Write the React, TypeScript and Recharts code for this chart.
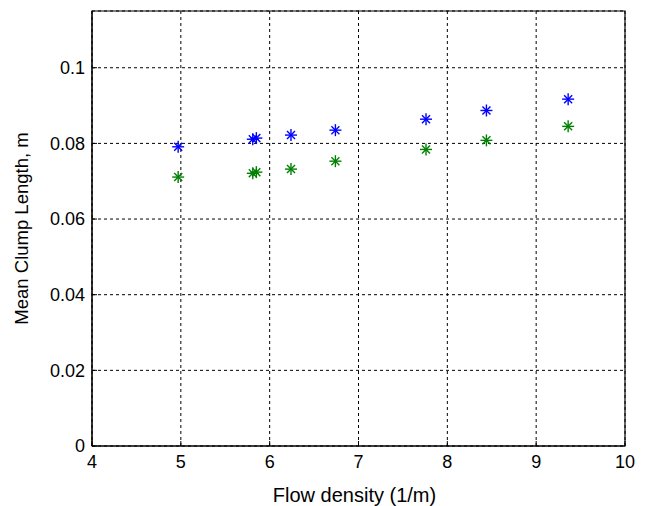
import {
  ScatterChart,
  Scatter,
  XAxis,
  YAxis,
  CartesianGrid,
  ReferenceArea,
} from "recharts";

const flowDensity = [4.97, 5.81, 5.85, 6.24, 6.74, 7.76, 8.44, 9.36];
const clumpUpper = [0.0791, 0.0811, 0.0814, 0.0822, 0.0835, 0.0864, 0.0887, 0.0917];
const clumpLower = [0.0711, 0.0721, 0.0724, 0.0732, 0.0753, 0.0784, 0.0808, 0.0845];
const xTicks = [4, 5, 6, 7, 8, 9, 10];
const yTicks = [0, 0.02, 0.04, 0.06, 0.08, 0.1];

const upperData = flowDensity.map((x, i) => ({ x, y: clumpUpper[i] }));
const lowerData = flowDensity.map((x, i) => ({ x, y: clumpLower[i] }));

const FONT = "'Liberation Sans', Arial, sans-serif";

// matlab style '*' marker
const star = (color: string) => (props: any) => {
  const { cx, cy } = props;
  const r = 6;
  const d = 4;
  return (
    <g stroke={color} strokeWidth={1.4}>
      <line x1={cx - r} y1={cy} x2={cx + r} y2={cy} />
      <line x1={cx} y1={cy - r} x2={cx} y2={cy + r} />
      <line x1={cx - d} y1={cy - d} x2={cx + d} y2={cy + d} />
      <line x1={cx - d} y1={cy + d} x2={cx + d} y2={cy - d} />
    </g>
  );
};

const YLabel = (props: any) => {
  const { viewBox } = props;
  const cx = 13;
  const cy = viewBox.y + viewBox.height / 2;
  return (
    <text
      x={cx}
      y={cy}
      transform={`rotate(-90 ${cx} ${cy})`}
      textAnchor="middle"
      dominantBaseline="central"
      fontFamily={FONT}
      fontSize={18.5}
      fill="#000"
    >
      Mean Clump Length, m
    </text>
  );
};

const XLabel = (props: any) => {
  const { viewBox } = props;
  const cx = viewBox.x + viewBox.width / 2 - 4;
  return (
    <text x={cx} y={494} textAnchor="middle" fontFamily={FONT} fontSize={20} fill="#000">
      Flow density (1/m)
    </text>
  );
};

const tickStyle = { fill: "#000", fontSize: 18, fontFamily: FONT };

export default function App() {
  return (
    <ScatterChart
      width={634}
      height={498}
      margin={{ top: 3, right: 17, left: 0, bottom: 0 }}
      style={{ background: "#fff" }}
    >
      <CartesianGrid stroke="#000" strokeDasharray="3 3" strokeWidth={1} />
      <XAxis
        type="number"
        dataKey="x"
        domain={[4, 10]}
        ticks={xTicks}
        height={60}
        stroke="#000"
        tick={tickStyle}
        tickSize={-5}
        tickMargin={14}
        label={<XLabel />}
      />
      <YAxis
        type="number"
        dataKey="y"
        domain={[0, 0.115]}
        ticks={yTicks}
        width={84}
        stroke="#000"
        tick={tickStyle}
        tickSize={-5}
        tickMargin={12}
        tickFormatter={(v: number) => String(v)}
        label={<YLabel />}
      />
      <ReferenceArea x1={4} x2={10} y1={0} y2={0.115} fill="none" stroke="#000" strokeWidth={1.2} />
      <Scatter data={upperData} shape={star("#0000ff")} isAnimationActive={false} />
      <Scatter data={lowerData} shape={star("#008000")} isAnimationActive={false} />
    </ScatterChart>
  );
}
